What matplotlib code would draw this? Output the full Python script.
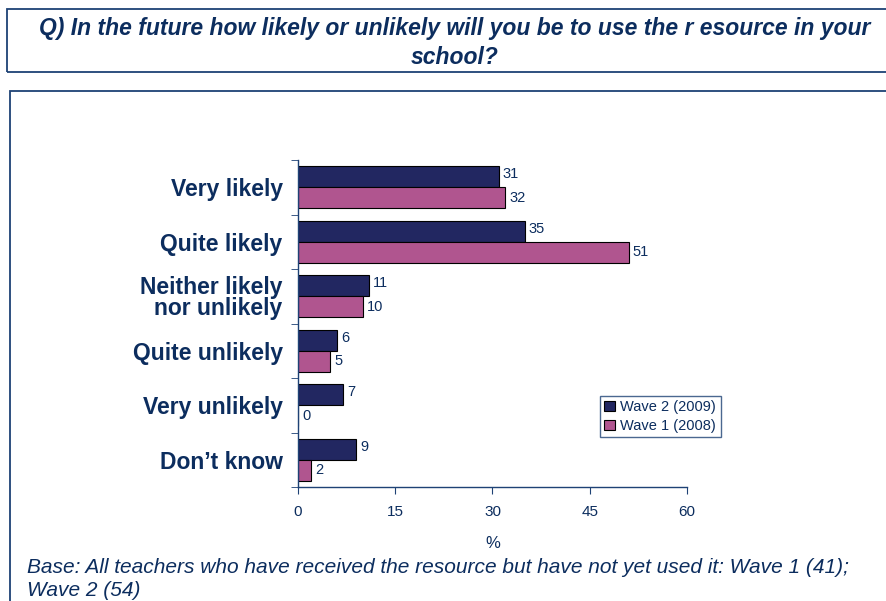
import numpy as np
import matplotlib
matplotlib.use("Agg")
import matplotlib.pyplot as plt
from matplotlib.patches import Rectangle

# survey answers, top to bottom
categories = ["Very likely", "Quite likely", "Neither likely\nnor unlikely",
              "Quite unlikely", "Very unlikely", "Don\u2019t know"]
wave2 = [31, 35, 11, 6, 7, 9]
wave1 = [32, 51, 10, 5, 0, 2]
series_names = ["Wave 2 (2009)", "Wave 1 (2008)"]
xticks = [0, 15, 30, 45, 60]

title = "Q) In the future how likely or unlikely will you be to use the r esource in your\nschool?"
footnote = ("Base: All teachers who have received the resource but have not yet used it: Wave 1 (41);\n"
            "Wave 2 (54)")

navy = "#222761"
pink = "#b0558f"
txt = "#0c2d5e"
frame = "#1e4275"

plain = ["Liberation Sans", "DejaVu Sans"]

W, H = 887, 601
fig = plt.figure(figsize=(W / 100, H / 100), dpi=100)

# boxes around the question and the chart area
fig.patches.append(Rectangle((7 / W, 1 - 72 / H), 900 / W, 63 / H, transform=fig.transFigure,
                             fill=False, ec=frame, lw=1.3))
fig.patches.append(Rectangle((10 / W, -0.1), 900 / W, 1 - 91 / H + 0.1, transform=fig.transFigure,
                             fill=False, ec=frame, lw=1.3))

fig.text(455 / W, 1 - 43 / H, title, ha="center", va="center", fontsize=16.5,
         fontweight="bold", fontstyle="italic", color=txt, family=plain, linespacing=1.3)

ax = fig.add_axes([298 / W, 1 - 487 / H, 389 / W, 327 / H])
y = np.arange(len(categories))
h = 0.385
ax.barh(y - h / 2, wave2, height=h, color=navy, edgecolor="black", lw=0.8, label=series_names[0])
ax.barh(y + h / 2, wave1, height=h, color=pink, edgecolor="black", lw=0.8, label=series_names[1])

for yi, v in zip(y - h / 2, wave2):
    ax.text(v + 0.6, yi - 0.05, str(v), va="center", ha="left", fontsize=10.5, color=txt, family=plain)
for yi, v in zip(y + h / 2, wave1):
    ax.text(v + 0.6, yi, str(v), va="center", ha="left", fontsize=10.5, color=txt, family=plain)

ax.set_xlim(0, 60)
ax.set_ylim(len(categories) - 0.5, -0.5)
for s in ["top", "right"]:
    ax.spines[s].set_visible(False)
for s in ["left", "bottom"]:
    ax.spines[s].set_color(frame)
    ax.spines[s].set_linewidth(1.0)

ax.set_xticks(xticks)
ax.set_xticklabels([str(t) for t in xticks], fontsize=11, color=txt, family=plain)
ax.tick_params(axis="x", direction="out", length=5, color=frame, pad=8)

ax.set_yticks(y)
ax.set_yticklabels(categories, fontsize=16.5, fontweight="bold", color=txt, family=plain,
                   linespacing=0.9)
ax.tick_params(axis="y", length=0, pad=11)
ax.set_yticks(np.arange(-0.5, len(categories)), minor=True)
ax.tick_params(axis="y", which="minor", direction="out", length=5, color=frame)

ax.set_xlabel("%", fontsize=12, color=txt, family=plain, labelpad=12)

leg = ax.legend(loc="upper left", bbox_to_anchor=((600 - 298) / 389, (487 - 396) / 327),
                fontsize=10.5, frameon=True, fancybox=False, handlelength=0.7, handleheight=0.7,
                handletextpad=0.4, borderpad=0.3, labelspacing=0.3, borderaxespad=0)
leg.get_frame().set_edgecolor(frame)
leg.get_frame().set_linewidth(1.0)
for t in leg.get_texts():
    t.set_color(txt)
    t.set_family(plain)

fig.text(27 / W, 1 - 579 / H, footnote, ha="left", va="center", fontsize=15,
         fontstyle="italic", color=txt, family=plain, linespacing=1.25)

fig.savefig("out.png", dpi=100)
